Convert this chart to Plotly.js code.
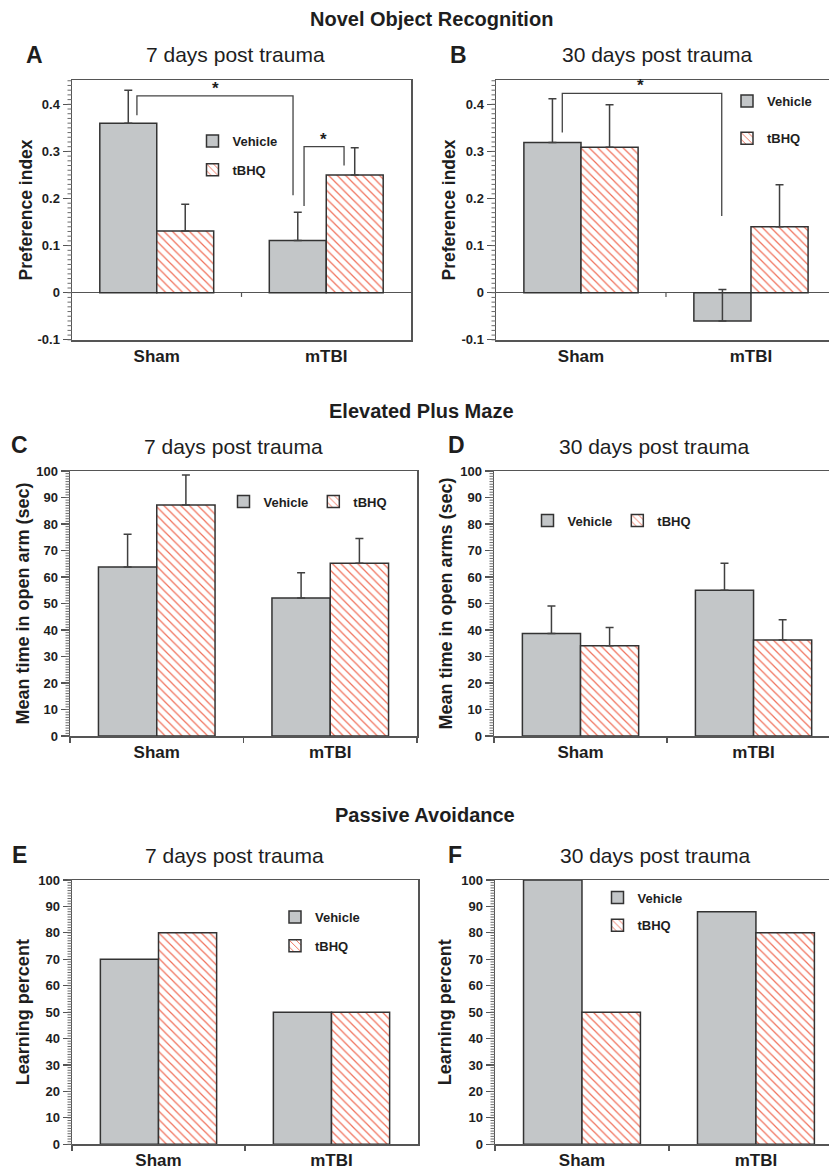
<!DOCTYPE html>
<html>
<head>
<meta charset="utf-8">
<script src="https://cdn.plot.ly/plotly-3.0.1.min.js"></script>
<style>
html, body { margin: 0; padding: 0; background: #ffffff; }
#chart { width: 829px; height: 1172px; }
</style>
</head>
<body>
<div id="chart"></div>
<script>
// ---------------- DATA ----------------
const categories = ['Sham', 'mTBI'];
const seriesNames = ['Vehicle', 'tBHQ'];

// A: Novel Object Recognition, 7 days post trauma (preference index)
const norA_vehicle = [0.36, 0.111];
const norA_vehicleErr = [0.07, 0.06];
const norA_tbhq = [0.131, 0.25];
const norA_tbhqErr = [0.057, 0.058];

// B: Novel Object Recognition, 30 days post trauma
const norB_vehicle = [0.319, -0.06];
const norB_vehicleErr = [0.093, 0.067];
const norB_tbhq = [0.309, 0.14];
const norB_tbhqErr = [0.09, 0.089];

// C: Elevated Plus Maze, 7 days (sec)
const epmC_vehicle = [63.8, 52.1];
const epmC_vehicleErr = [12.3, 9.5];
const epmC_tbhq = [87.2, 65.2];
const epmC_tbhqErr = [11.3, 9.3];

// D: Elevated Plus Maze, 30 days (sec)
const epmD_vehicle = [38.7, 55.0];
const epmD_vehicleErr = [10.4, 10.2];
const epmD_tbhq = [34.1, 36.2];
const epmD_tbhqErr = [6.8, 7.7];

// E: Passive Avoidance, 7 days (learning percent)
const paE_vehicle = [70, 50];
const paE_tbhq = [80, 50];

// F: Passive Avoidance, 30 days
const paF_vehicle = [100, 88];
const paF_tbhq = [50, 80];

// tick labels that differ from Plotly's default formatting (ASCII hyphen minus)
const norTickDefault = ['\u22120.1'];
const norTickText = ['-0.1'];

// significance brackets (category-index x, data y): left leg bottom, top, right leg bottom
const bracketsA = [
  {x0: -0.117, x1: 0.804, yLeft: 0.377, yTop: 0.418, yRight: 0.207, starX: 0.344},
  {x0: 0.869, x1: 1.105, yLeft: 0.184, yTop: 0.31, yRight: 0.27, starX: 0.981}
];
const bracketsB = [
  {x0: -0.11, x1: 0.828, yLeft: 0.34, yTop: 0.423, yRight: 0.163, starX: 0.351}
];

// ---------------- STYLE / LAYOUT ----------------
const W = 829, H = 1172;
const FONT = 'Liberation Sans, Arial, Helvetica, sans-serif';
const TXT = '#1e1e1e';
const AXC = '#555555';
const GRAY = '#c3c6c8';
const STRIPE = '#f0705a';
const px = v => v / W;
const py = v => 1 - v / H;

const norAlias = {};
norTickDefault.forEach((k, i) => { norAlias[k] = norTickText[i]; });

const panels = [
  {key: 'A', veh: norA_vehicle, vehErr: norA_vehicleErr, tb: norA_tbhq, tbErr: norA_tbhqErr,
   xd: [72, 411], yd: [80, 340], xr: [-0.5, 1.5], yr: [-0.1004, 0.4516], nor: true, left: true,
   ytitle: 'Preference index', standoff: 0, title: '7 days post trauma', tcx: 235, tcy: 55, lx: 34, ly: 55,
   leg: {x: 192.5, y: 126, orient: 'v', gap: 9}, brackets: bracketsA},
  {key: 'B', veh: norB_vehicle, vehErr: norB_vehicleErr, tb: norB_tbhq, tbErr: norB_tbhqErr,
   xd: [496, 829], yd: [80, 340], xr: [-0.5, 1.459], yr: [-0.1004, 0.4516], nor: true, left: false,
   ytitle: 'Preference index', standoff: 1, title: '30 days post trauma', tcx: 657, tcy: 55, lx: 458, ly: 55,
   leg: {x: 727, y: 86, orient: 'v', gap: 17.5}, brackets: bracketsB},
  {key: 'C', veh: epmC_vehicle, vehErr: epmC_vehicleErr, tb: epmC_tbhq, tbErr: epmC_tbhqErr,
   xd: [70, 417], yd: [471, 736], xr: [-0.5, 1.5], yr: [0, 100], nor: false, left: true,
   ytitle: 'Mean time in open arm (sec)', standoff: 2, title: '7 days post trauma', tcx: 233, tcy: 446, lx: 19, ly: 445,
   leg: {x: 223.5, y: 486.5, orient: 'h', gap: 0}, brackets: []},
  {key: 'D', veh: epmD_vehicle, vehErr: epmD_vehicleErr, tb: epmD_tbhq, tbErr: epmD_tbhqErr,
   xd: [494, 829], yd: [471, 736], xr: [-0.5, 1.436], yr: [0, 100], nor: false, left: false,
   ytitle: 'Mean time in open arms (sec)', standoff: 3, title: '30 days post trauma', tcx: 654.5, tcy: 446, lx: 456, ly: 445,
   leg: {x: 527.5, y: 505.5, orient: 'h', gap: 0}, brackets: []},
  {key: 'E', veh: paE_vehicle, vehErr: null, tb: paE_tbhq, tbErr: null,
   xd: [72, 418], yd: [880, 1144.3], xr: [-0.5, 1.5], yr: [0, 100], nor: false, left: true,
   ytitle: 'Learning percent', standoff: 4, title: '7 days post trauma', tcx: 234, tcy: 855, lx: 19, ly: 855,
   leg: {x: 275, y: 902, orient: 'v', gap: 9}, brackets: []},
  {key: 'F', veh: paF_vehicle, vehErr: null, tb: paF_tbhq, tbErr: null,
   xd: [495, 829], yd: [880, 1144.3], xr: [-0.5, 1.42], yr: [0, 100], nor: false, left: false,
   ytitle: 'Learning percent', standoff: 5, title: '30 days post trauma', tcx: 655, tcy: 855, lx: 455, ly: 855,
   leg: {x: 597.5, y: 882.5, orient: 'v', gap: 8}, brackets: []}
];

const headers = [
  {text: 'Novel Object Recognition', x: 431, y: 19},
  {text: 'Elevated Plus Maze', x: 421, y: 411},
  {text: 'Passive Avoidance', x: 424.5, y: 815}
];

const data = [];
const layout = {
  width: W, height: H,
  margin: {l: 0, r: 0, t: 0, b: 0},
  paper_bgcolor: '#ffffff', plot_bgcolor: '#ffffff',
  barmode: 'group', bargap: 0.328, bargroupgap: 0,
  font: {family: FONT, color: TXT},
  shapes: [], annotations: []
};

function errBar(arr) {
  if (!arr) return undefined;
  return {type: 'data', symmetric: false, array: arr, arrayminus: arr.map(() => 0),
          color: '#404040', thickness: 1.5, width: 4, visible: true};
}

panels.forEach((p, i) => {
  const sfx = i === 0 ? '' : String(i + 1);
  const xa = 'x' + sfx, ya = 'y' + sfx, lg = 'legend' + sfx;
  data.push({
    type: 'bar', name: seriesNames[0], x: categories, y: p.veh,
    xaxis: xa, yaxis: ya, legend: lg, legendgroup: p.key + 'v',
    marker: {color: GRAY, line: {color: '#333333', width: 1.5}},
    error_y: errBar(p.vehErr), hoverinfo: 'skip'
  });
  data.push({
    type: 'bar', name: seriesNames[1], x: categories, y: p.tb,
    xaxis: xa, yaxis: ya, legend: lg, legendgroup: p.key + 't',
    marker: {color: '#ffffff', line: {color: '#333333', width: 1.5},
             pattern: {shape: '\\', fgcolor: STRIPE, bgcolor: '#ffffff', size: 6, solidity: 0.2}},
    error_y: errBar(p.tbErr), hoverinfo: 'skip'
  });

  const yDom = [py(p.yd[1]), py(p.yd[0])];
  layout['xaxis' + sfx] = {
    domain: [px(p.xd[0]), px(p.xd[1])], anchor: ya, type: 'category',
    range: p.xr, showline: true, linecolor: AXC, linewidth: 1.5, mirror: true,
    ticks: 'outside', tickson: 'boundaries', ticklen: p.nor ? 7 : 5, tickwidth: 1.2,
    tickcolor: p.nor ? 'rgba(0,0,0,0)' : AXC,
    tickfont: {family: FONT, size: 17, weight: 'bold', color: TXT},
    showgrid: false, zeroline: false, fixedrange: true
  };
  layout['yaxis' + sfx] = {
    domain: yDom, anchor: xa,
    range: p.yr, showline: true, linecolor: AXC, linewidth: 1.5, mirror: p.left,
    ticks: 'outside', ticklen: 8, tickwidth: 1.2, tickcolor: AXC,
    tickmode: 'linear', tick0: 0, dtick: p.nor ? 0.1 : 10,
    labelalias: p.nor ? norAlias : undefined,
    tickfont: {family: FONT, size: 13, weight: 'bold', color: TXT},
    showgrid: false,
    zeroline: p.nor, zerolinecolor: AXC, zerolinewidth: 1.5,
    title: {text: p.ytitle, standoff: p.standoff,
            font: {family: FONT, size: p.nor ? 17.5 : 18, weight: 'bold', color: TXT}},
    fixedrange: true
  };
  layout[lg] = {
    x: px(p.leg.x), y: py(p.leg.y), xanchor: 'left', yanchor: 'top',
    xref: 'paper', yref: 'paper',
    orientation: p.leg.orient,
    traceorder: p.leg.orient === 'v' ? 'grouped' : 'normal',
    tracegroupgap: p.leg.gap,
    bgcolor: 'rgba(0,0,0,0)', borderwidth: 0,
    font: {family: FONT, size: 13, weight: 'bold', color: TXT}
  };

  // dense ruler of minor ticks along the left axis (axis decoration, mapped from the axis range)
  const step = p.nor ? 0.01 : 1;
  const toPaperY = v => yDom[0] + (v - p.yr[0]) / (p.yr[1] - p.yr[0]) * (yDom[1] - yDom[0]);
  const nMin = Math.ceil(p.yr[0] / step - 1e-6), nMax = Math.floor(p.yr[1] / step + 1e-6);
  for (let k = nMin; k <= nMax; k++) {
    const yy = toPaperY(k * step);
    layout.shapes.push({type: 'line', xref: 'paper', yref: 'paper',
                        x0: px(p.xd[0] - 4.5), x1: px(p.xd[0]), y0: yy, y1: yy,
                        line: {color: '#6a6a6a', width: 1}, layer: 'above'});
  }

  // small category-boundary tick on the zero line (panels A, B)
  if (p.nor) {
    layout.shapes.push({type: 'line', xref: xa, yref: ya, x0: 0.5, x1: 0.5, y0: 0, y1: -0.009,
                        line: {color: AXC, width: 1.2}});
  }
  // significance brackets
  p.brackets.forEach(b => {
    layout.shapes.push({
      type: 'path', xref: xa, yref: ya,
      path: `M ${b.x0},${b.yLeft} L ${b.x0},${b.yTop} L ${b.x1},${b.yTop} L ${b.x1},${b.yRight}`,
      line: {color: '#444444', width: 1.3}
    });
    layout.annotations.push({
      xref: xa, yref: ya, x: b.starX, y: b.yTop, text: '*', showarrow: false,
      xanchor: 'center', yanchor: 'bottom', yshift: -4,
      font: {family: FONT, size: 17, weight: 'bold', color: TXT}
    });
  });

  // panel title and letter
  layout.annotations.push({
    xref: 'paper', yref: 'paper', x: px(p.tcx), y: py(p.tcy), text: p.title, showarrow: false,
    xanchor: 'center', yanchor: 'middle', font: {family: FONT, size: 21, color: TXT}
  });
  layout.annotations.push({
    xref: 'paper', yref: 'paper', x: px(p.lx), y: py(p.ly), text: p.key, showarrow: false,
    xanchor: 'center', yanchor: 'middle', font: {family: FONT, size: 23, weight: 'bold', color: TXT}
  });
});

headers.forEach(h => {
  layout.annotations.push({
    xref: 'paper', yref: 'paper', x: px(h.x), y: py(h.y), text: h.text, showarrow: false,
    xanchor: 'center', yanchor: 'middle', font: {family: FONT, size: 20, weight: 'bold', color: TXT}
  });
});

Plotly.newPlot('chart', data, layout, {displayModeBar: false, staticPlot: true});
</script>
</body>
</html>
